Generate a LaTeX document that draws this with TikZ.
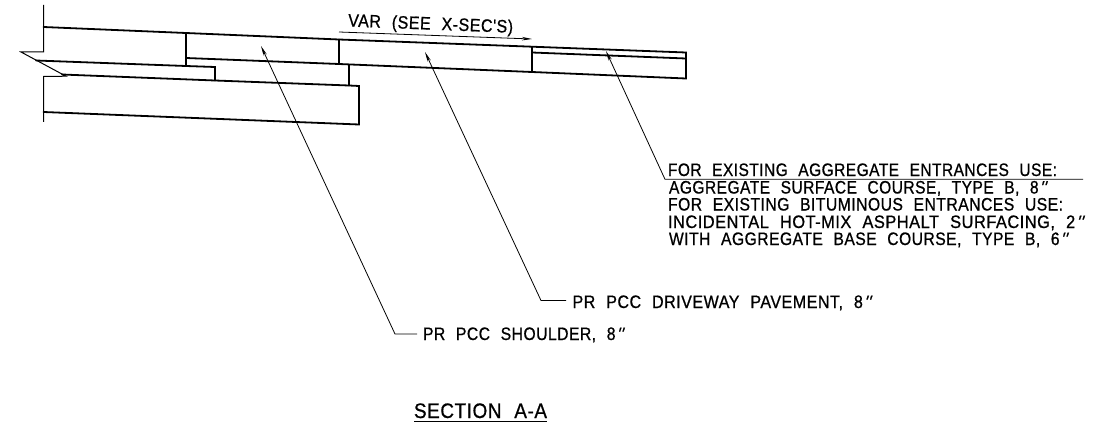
\documentclass[tikz,border=0pt]{standalone}
\usepackage{fontspec}
\usepackage{graphicx}
\setmainfont{Liberation Sans}
\newfontfamily\cadfont[LetterSpace=3,WordSpace=2.2,FakeBold=0.8]{Liberation Sans}
\newfontfamily\cadslant[LetterSpace=3,FakeBold=0.8,FakeSlant=0.35]{Liberation Sans}
\newcommand{\fitw}[2]{\resizebox{#1pt}{\height}{#2}}
\newcommand{\inch}{{\cadslant\fontsize{18}{18}\selectfont ''}}
\usetikzlibrary{arrows.meta}
\tikzset{
  x=1pt,y=-1pt,
  slab/.style={line width=1.8pt,line join=miter,line cap=round},
  thinline/.style={line width=1pt},
  leader/.style={line width=0.8pt,{Stealth[length=10pt,width=3.5pt]}-},
  label/.style={anchor=base west,inner sep=0pt,outer sep=0pt,font=\cadfont\fontsize{18}{18}\selectfont},
}
\begin{document}
\begin{tikzpicture}
\useasboundingbox (0,0) rectangle (1114,425);
% break lines
\draw[thinline] (43.5,5) -- (43.5,52) -- (21,52) -- (66,76.2) -- (43.5,76.5) -- (43.5,122);
% pavement
\draw[slab] (43.5,27) -- (186,33) -- (339,39.5) -- (532,46.7) -- (686,52.5) -- (686,78.5) -- (532,72) -- (339,64) -- (186,58);
\draw[slab] (36,60.5) -- (186,66) -- (215,67) -- (215,80.5);
\draw[slab] (186,33) -- (186,66);
\draw[slab] (339,39.5) -- (339,64);
\draw[slab] (532,46.7) -- (532,72);
\draw[slab] (532,52.5) -- (686,58.5);
\draw[slab] (349,65) -- (349,85.5);
\draw[slab] (62,74.5) -- (215,80.5) -- (349,85.5) -- (359,86) -- (359,124.5) -- (43.5,112);
% dimension
\coordinate (dimA) at (339,32);
\coordinate (dimB) at (532,39);
\draw[line width=0.8pt,-{Stealth[length=10pt,width=3.5pt]}] (dimA) -- (dimB);
\node[label,rotate=-2.2] (var) at (348,26.5) {\fitw{165}{VAR (SEE X-SEC'S)}};
% leaders
\coordinate (tipS) at (261,46);
\coordinate (tipD) at (425,52);
\coordinate (tipA) at (606,51);
\node[label] (shoulder) at (423,340) {\fitw{199}{PR PCC SHOULDER, 8\inch}};
\node[label] (driveway) at (572.5,308) {\fitw{297}{PR PCC DRIVEWAY PAVEMENT, 8\inch}};
\coordinate (elbowS) at (395,334);
\coordinate (elbowD) at (541,300.5);
\coordinate (elbowA) at (665,179.3);
\coordinate (endS) at (417,334);
\coordinate (endD) at (566,300.5);
\coordinate (endA) at (1083,179.3);
\draw[leader] (tipS) -- (elbowS) -- (endS);
\draw[leader] (tipD) -- (elbowD) -- (endD);
\draw[leader] (tipA) -- (elbowA) -- (endA);
\node[label] (n1) at (668,176) {\fitw{389}{FOR EXISTING AGGREGATE ENTRANCES USE:}};
\node[label] (n2) at (669,193.5) {\fitw{376}{AGGREGATE SURFACE COURSE, TYPE B, 8\inch}};
\node[label] (n3) at (668,210.5) {\fitw{395}{FOR EXISTING BITUMINOUS ENTRANCES USE:}};
\node[label] (n4) at (668,228) {\fitw{414}{INCIDENTAL HOT-MIX ASPHALT SURFACING, 2\inch}};
\node[label] (n5) at (669,245) {\fitw{397}{WITH AGGREGATE BASE COURSE, TYPE B, 6\inch}};
% title
\node[label,font=\cadfont\fontsize{21}{21}\selectfont] (title) at (414,418) {\fitw{133}{SECTION A-A}};
\draw[line width=1.4pt] (414,421.7) -- (547,421.7);
\end{tikzpicture}
\end{document}
